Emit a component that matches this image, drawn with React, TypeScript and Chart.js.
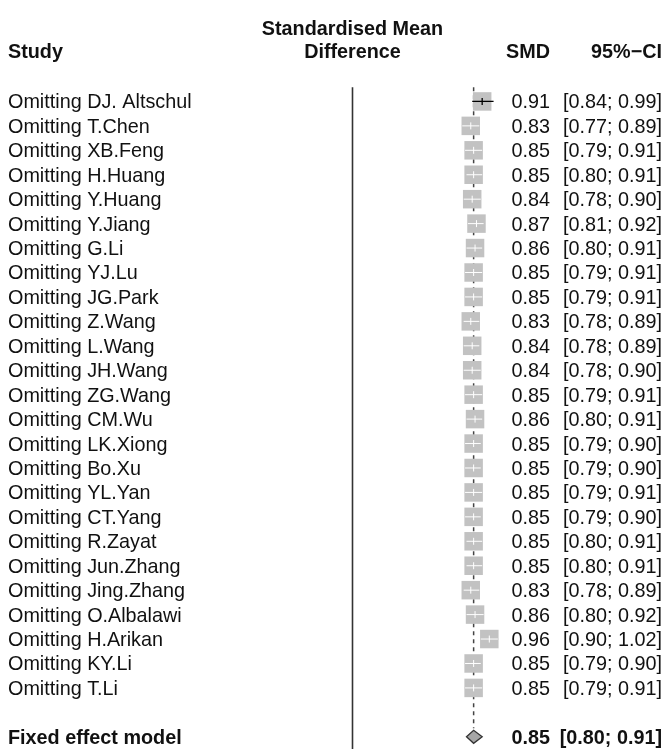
import React, { useEffect, useRef } from "react";
import { Chart, registerables } from "chart.js";

Chart.register(...registerables);

const studies = [
  "Omitting DJ. Altschul", "Omitting T.Chen", "Omitting XB.Feng", "Omitting H.Huang",
  "Omitting Y.Huang", "Omitting Y.Jiang", "Omitting G.Li", "Omitting YJ.Lu",
  "Omitting JG.Park", "Omitting Z.Wang", "Omitting L.Wang", "Omitting JH.Wang",
  "Omitting ZG.Wang", "Omitting CM.Wu", "Omitting LK.Xiong", "Omitting Bo.Xu",
  "Omitting YL.Yan", "Omitting CT.Yang", "Omitting R.Zayat", "Omitting Jun.Zhang",
  "Omitting Jing.Zhang", "Omitting O.Albalawi", "Omitting H.Arikan", "Omitting KY.Li",
  "Omitting T.Li",
];
const smd = [0.91, 0.83, 0.85, 0.85, 0.84, 0.87, 0.86, 0.85, 0.85, 0.83, 0.84, 0.84, 0.85,
  0.86, 0.85, 0.85, 0.85, 0.85, 0.85, 0.85, 0.83, 0.86, 0.96, 0.85, 0.85];
const lower = [0.84, 0.77, 0.79, 0.80, 0.78, 0.81, 0.80, 0.79, 0.79, 0.78, 0.78, 0.78, 0.79,
  0.80, 0.79, 0.79, 0.79, 0.79, 0.80, 0.80, 0.78, 0.80, 0.90, 0.79, 0.79];
const upper = [0.99, 0.89, 0.91, 0.91, 0.90, 0.92, 0.91, 0.91, 0.91, 0.89, 0.89, 0.90, 0.91,
  0.91, 0.90, 0.90, 0.91, 0.90, 0.91, 0.91, 0.89, 0.92, 1.02, 0.90, 0.91];
const pooledLabel = "Fixed effect model";
const pooledSmd = 0.85;
const pooledLower = 0.80;
const pooledUpper = 0.91;
const nullValue = 0;
const headerStudy = "Study";
const headerEffect = ["Standardised Mean", "Difference"];
const headerSmd = "SMD";
const headerCi = "95%\u2212CI";

const fmt = (v: number) => v.toFixed(2);

export default function App() {
  const ref = useRef<HTMLCanvasElement | null>(null);
  useEffect(() => {
    const canvas = ref.current;
    if (!canvas) return;
    const rows = studies.map((_, i) => i + 1);
    const pooledRow = studies.length + 2;
    const FONT = '"Liberation Sans", Arial, sans-serif';
    const FS = 19.8;
    const BOX = 18.5;
    const DH = 6.5;
    const TY = 1.5;

    const forestPlugin = {
      id: "forest",
      beforeDatasetsDraw(chart: any) {
        const { ctx } = chart;
        const xs = chart.scales.x;
        const ys = chart.scales.y;
        ctx.save();
        const x0 = xs.getPixelForValue(nullValue);
        ctx.strokeStyle = "#333333";
        ctx.lineWidth = 1.6;
        ctx.beginPath();
        ctx.moveTo(x0, ys.getPixelForValue(0.42));
        ctx.lineTo(x0, ys.getPixelForValue(ys.max));
        ctx.stroke();
        const dm = xs.getPixelForValue(pooledSmd);
        const yp = ys.getPixelForValue(pooledRow);
        ctx.setLineDash([4, 4]);
        ctx.strokeStyle = "#444444";
        ctx.lineWidth = 1.5;
        ctx.beginPath();
        ctx.moveTo(dm, ys.getPixelForValue(0.42));
        ctx.lineTo(dm, yp - DH - 2);
        ctx.stroke();
        ctx.setLineDash([]);
        ctx.restore();
      },
      afterDatasetsDraw(chart: any) {
        const { ctx } = chart;
        const xs = chart.scales.x;
        const ys = chart.scales.y;
        ctx.save();
        rows.forEach((r, i) => {
          const y = ys.getPixelForValue(r);
          const xl = xs.getPixelForValue(lower[i]);
          const xu = xs.getPixelForValue(upper[i]);
          const xm = xs.getPixelForValue(smd[i]);
          const inside = xu - xl < BOX;
          ctx.strokeStyle = inside ? "#ffffff" : "#000000";
          ctx.lineWidth = inside ? 1 : 1.3;
          ctx.beginPath();
          ctx.moveTo(xl, y);
          ctx.lineTo(xu, y);
          ctx.moveTo(xm, y - 3.5);
          ctx.lineTo(xm, y + 3.5);
          ctx.stroke();
        });
        const yp = ys.getPixelForValue(pooledRow);
        const dl = xs.getPixelForValue(pooledLower);
        const du = xs.getPixelForValue(pooledUpper);
        const dm = xs.getPixelForValue(pooledSmd);
        ctx.beginPath();
        ctx.moveTo(dl, yp);
        ctx.lineTo(dm, yp - DH);
        ctx.lineTo(du, yp);
        ctx.lineTo(dm, yp + DH);
        ctx.closePath();
        ctx.fillStyle = "#a6a6a6";
        ctx.fill();
        ctx.strokeStyle = "#333333";
        ctx.lineWidth = 1.3;
        ctx.stroke();
        ctx.restore();
      },
      afterDraw(chart: any) {
        const { ctx } = chart;
        const xs = chart.scales.x;
        const ys = chart.scales.y;
        ctx.save();
        ctx.fillStyle = "#111111";
        ctx.textBaseline = "middle";
        const colStudy = 8;
        const colSmd = 550;
        const colCi = 662;
        const colEffect = xs.getPixelForValue(nullValue);
        ctx.font = `bold ${FS}px ${FONT}`;
        ctx.textAlign = "left";
        ctx.fillText(headerStudy, colStudy, 51 + TY);
        ctx.textAlign = "center";
        ctx.fillText(headerEffect[0], colEffect, 28 + TY);
        ctx.fillText(headerEffect[1], colEffect, 51 + TY);
        ctx.textAlign = "right";
        ctx.fillText(headerSmd, colSmd, 51 + TY);
        ctx.fillText(headerCi, colCi, 51 + TY);
        ctx.font = `${FS}px ${FONT}`;
        rows.forEach((r, i) => {
          const y = ys.getPixelForValue(r) + TY;
          ctx.textAlign = "left";
          ctx.fillText(studies[i], colStudy, y);
          ctx.textAlign = "right";
          ctx.fillText(fmt(smd[i]), colSmd, y);
          ctx.fillText(`[${fmt(lower[i])}; ${fmt(upper[i])}]`, colCi, y);
        });
        const yp = ys.getPixelForValue(pooledRow) + TY;
        ctx.font = `bold ${FS}px ${FONT}`;
        ctx.textAlign = "left";
        ctx.fillText(pooledLabel, colStudy, yp);
        ctx.textAlign = "right";
        ctx.fillText(fmt(pooledSmd), colSmd, yp);
        ctx.fillText(`[${fmt(pooledLower)}; ${fmt(pooledUpper)}]`, colCi, yp);
        ctx.restore();
      },
    };

    const chart = new Chart(canvas, {
      type: "scatter",
      data: {
        datasets: [
          {
            label: "SMD",
            data: smd.map((v, i) => ({ x: v, y: rows[i] })),
            pointStyle: "rect",
            pointRadius: BOX / 1.4142,
            pointBackgroundColor: "#c2c2c2",
            pointBorderColor: "#c2c2c2",
            pointBorderWidth: 0,
          },
        ],
      },
      options: {
        animation: false,
        responsive: false,
        events: [],
        layout: { autoPadding: false, padding: { left: 195.75, right: 160.75, top: 77, bottom: 0 } },
        plugins: { legend: { display: false }, tooltip: { enabled: false } },
        scales: {
          x: { type: "linear", min: -1.1, max: 1.1, display: false },
          y: { type: "linear", min: 0, max: 27.5, reverse: true, display: false },
        },
        clip: false,
      } as any,
      plugins: [forestPlugin],
    });
    return () => chart.destroy();
  }, []);

  return (
    <div style={{ position: "absolute", left: 0, top: 0, width: 670, height: 749, background: "#ffffff" }}>
      <canvas ref={ref} width={670} height={749} style={{ display: "block" }} />
    </div>
  );
}
